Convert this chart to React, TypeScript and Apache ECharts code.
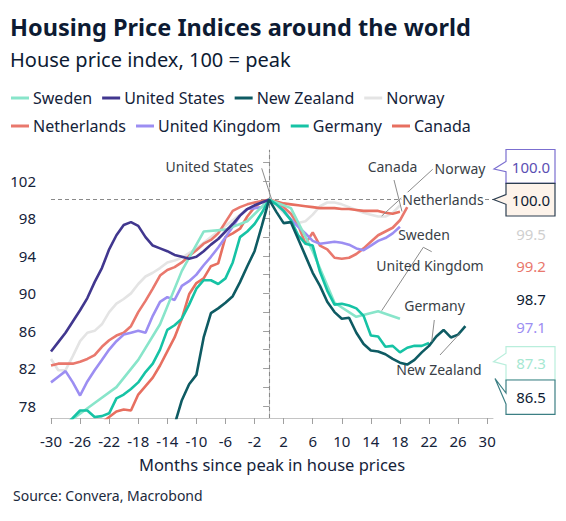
import { useEffect, useRef } from "react";
import * as echarts from "echarts";

const legendRow1 = ["Sweden", "United States", "New Zealand", "Norway"];
const legendRow2 = ["Netherlands", "United Kingdom", "Germany", "Canada"];

const xTickValues = [-30, -26, -22, -18, -14, -10, -6, -2, 2, 6, 10, 14, 18, 22, 26, 30];
const yTickValues = [78, 80, 82, 84, 86, 88, 90, 92, 94, 96, 98, 100, 102, 104];
const yLabelValues = [78, 82, 86, 90, 94, 98, 102];

// monthly series: first month + values
const usStart = -30;
const usValues = [83.8, 84.8, 85.8, 87.0, 88.2, 89.5, 91.2, 92.7, 94.7, 96.2, 97.3, 97.6, 97.2, 96.0, 95.1, 94.8, 94.5, 94.1, 93.9, 93.7, 93.9, 94.5, 95.2, 95.8, 96.6, 97.4, 98.3, 99.0, 99.4, 99.7, 100];

const norwayStart = -30;
const norwayValues = [83.0, 81.8, 81.8, 83.3, 84.9, 85.8, 86.0, 86.7, 88.0, 88.9, 89.4, 90.0, 91.0, 91.8, 92.2, 92.7, 93.3, 93.5, 93.8, 94.3, 94.8, 95.4, 96.0, 96.6, 97.2, 97.8, 98.4, 99.0, 99.4, 99.8, 100, 99.4, 98.6, 97.9, 97.5, 97.7, 98.4, 99.3, 99.7, 99.7, 99.5, 99.2, 98.9, 98.6, 98.4, 98.2, 98.2, 98.6, 99.4];

const netherlandsStart = -30;
const netherlandsValues = [82.3, 82.5, 82.5, 82.5, 82.7, 83.0, 83.4, 84.3, 85.0, 85.5, 85.8, 86.5, 88.0, 89.2, 90.5, 91.9, 92.5, 92.8, 93.3, 94.0, 94.6, 95.3, 95.7, 96.4, 97.6, 98.8, 99.2, 99.5, 99.7, 99.85, 100, 99.7, 99.2, 98.5, 97.3, 95.3, 96.5, 95.1, 94.7, 93.8, 93.7, 93.8, 94.2, 94.8, 95.5, 96.2, 96.6, 97.0, 97.8, 99.2];

const canadaStart = -24;
const canadaValues = [75.6, 76.2, 76.8, 77.4, 77.6, 77.5, 79.2, 80.1, 81.0, 82.3, 83.8, 85.3, 87.3, 89.9, 91.1, 91.6, 92.9, 93.2, 96.0, 96.4, 96.9, 98.2, 99.2, 99.8, 100, 99.8, 99.6, 99.5, 99.4, 99.3, 99.2, 99.1, 99.1, 99.1, 99.0, 99.0, 98.9, 98.8, 98.8, 98.8, 98.6, 98.5, 98.7];

const ukStart = -30;
const ukValues = [80.5, 81.1, 81.7, 80.5, 79.1, 80.6, 81.8, 82.9, 84.0, 84.9, 85.6, 85.8, 86.0, 85.8, 87.6, 89.1, 89.6, 89.3, 90.8, 91.3, 92.0, 93.0, 93.9, 94.9, 96.0, 97.1, 98.3, 99.0, 99.1, 99.2, 100, 99.6, 98.8, 97.9, 97.1, 96.4, 95.6, 95.3, 95.4, 95.5, 95.4, 95.2, 94.8, 94.6, 95.1, 95.6, 95.9, 96.4, 97.1];

const germanyStart = -28;
const germanyValues = [76.0, 76.7, 77.5, 77.5, 76.8, 76.9, 77.2, 78.8, 79.2, 79.8, 80.5, 81.6, 82.5, 84.0, 86.1, 86.6, 87.3, 88.8, 90.5, 91.4, 91.4, 91.0, 91.6, 93.3, 96.0, 96.6, 97.4, 98.6, 100, 99.5, 98.8, 97.8, 96.2, 95.3, 95.1, 92.3, 90.3, 88.8, 88.9, 88.7, 88.4, 87.6, 85.5, 85.4, 84.3, 84.4, 83.7, 84.2, 84.4, 84.4, 84.7];

const nzStart = -14;
const nzValues = [73.5, 76.0, 78.6, 80.3, 81.3, 85.3, 87.9, 88.4, 89.0, 89.7, 91.2, 92.9, 94.5, 97.2, 100, 98.7, 97.5, 97.6, 95.8, 94.0, 92.2, 90.8, 89.1, 88.0, 87.3, 87.4, 85.8, 84.6, 83.9, 83.8, 83.5, 83.0, 82.6, 82.4, 82.9, 83.7, 84.4, 85.4, 86.1, 85.3, 85.6, 86.5];

// quarterly series
const swedenMonths = [-30, -27, -24, -21, -18, -15, -12, -9, -6, -3, 0, 3, 6, 9, 12, 15, 18];
const swedenValues = [74.5, 76.6, 78.3, 80.0, 82.9, 86.7, 92.4, 96.6, 96.8, 97.7, 100, 99.1, 94.5, 89.0, 87.5, 88.1, 87.3];

const lastValues = ["100.0", "100.0", "99.5", "99.2", "98.7", "97.1", "87.3", "86.5"];

const COLORS: Record<string, string> = {
  Sweden: "#88E5CA",
  "United States": "#41378F",
  "New Zealand": "#0E5B63",
  Norway: "#E4E4E4",
  Netherlands: "#E9786D",
  "United Kingdom": "#9C8EF2",
  Germany: "#16C3A5",
  Canada: "#E76F60",
};

const monthly = (start: number, values: number[]) => values.map((v, i) => [start + i, v]);
const paired = (months: number[], values: number[]) => values.map((v, i) => [months[i], v]);

const TEXT = "#15233A";
const FONT = "Noto Sans";

export default function App() {
  const ref = useRef<HTMLDivElement>(null);

  useEffect(() => {
    if (!ref.current) return;
    const chart = echarts.init(ref.current, undefined, { renderer: "svg" });

    const seriesDefs: [string, number[][]][] = [
      ["Norway", monthly(norwayStart, norwayValues)],
      ["Canada", monthly(canadaStart, canadaValues)],
      ["Netherlands", monthly(netherlandsStart, netherlandsValues)],
      ["United Kingdom", monthly(ukStart, ukValues)],
      ["Sweden", paired(swedenMonths, swedenValues)],
      ["Germany", monthly(germanyStart, germanyValues)],
      ["United States", monthly(usStart, usValues)],
      ["New Zealand", monthly(nzStart, nzValues)],
    ];

    const series: any[] = seriesDefs.map(([name, data], idx) => ({
      name,
      type: "line",
      data,
      showSymbol: false,
      symbol: "none",
      color: COLORS[name],
      lineStyle: { width: 2.6, color: COLORS[name] },
      z: 3 + idx,
      markLine:
        idx === 0
          ? {
              silent: true,
              symbol: ["none", "none"],
              label: { show: false },
              lineStyle: { type: [4, 3], color: "#8A8A8A", width: 1.1 },
              data: [{ xAxis: 0 }, { yAxis: 100 }],
            }
          : undefined,
    }));

    const lbl = (text: string, x: number, y: number, extra: any = {}) => ({
      type: "text",
      x,
      y,
      z: 100,
      style: {
        text,
        fill: "#3A3F47",
        font: `14px "${FONT}"`,
        align: "center",
        verticalAlign: "middle",
        textAlign: "center",
        textVerticalAlign: "middle",
        ...extra,
      },
    });
    const leader = (points: number[][]) => ({
      type: "polyline",
      z: 99,
      shape: { points },
      style: { stroke: "#8C8C8C", lineWidth: 1, fill: null },
    });
    const valText = (text: string, y: number, fill: string) => ({
      type: "text",
      x: 531,
      y,
      z: 102,
      style: {
        text,
        fill,
        font: `15px "${FONT}"`,
        align: "center",
        verticalAlign: "middle",
        textAlign: "center",
        textVerticalAlign: "middle",
      },
    });
    const box = (points: number[][], stroke: string, fill: string) => ({
      type: "polygon",
      z: 101,
      shape: { points },
      style: { stroke, fill, lineWidth: 1.2 },
    });

    const graphic: any[] = [
      leader([[261.7, 168.3], [271.5, 199]]),
      lbl("United States", 209.5, 166.7),
      leader([[394, 180], [402, 211.5]]),
      lbl("Canada", 392.5, 166.7),
      leader([[432.7, 169.3], [381.7, 216]]),
      lbl("Norway", 460, 168.3),
      lbl("Netherlands", 443, 199.3, { backgroundColor: "#fff", padding: [0, 1] }),
      leader([[431.7, 251.7], [423.3, 247.3], [381.7, 310.7]]),
      lbl("Sweden", 424, 234.3),
      lbl("United Kingdom", 430, 265),
      leader([[434.3, 320], [431.7, 341.7]]),
      lbl("Germany", 434.5, 305.7),
      leader([[440, 355], [460, 333.3]]),
      lbl("New Zealand", 439, 369),

      box([[506, 149.5], [555, 149.5], [555, 183.3], [506, 183.3], [506, 171.7], [494, 169], [506, 161.5]], "#7B6FD0", "#FFFFFF"),
      valText(lastValues[0], 166.5, "#5B4FB3"),
      box([[506, 183.3], [555, 183.3], [555, 216], [506, 216], [506, 204.3], [493.5, 199.5], [506, 194.5]], "#2C3E50", "#FDF3EA"),
      valText(lastValues[1], 199.8, "#0D1B33"),
      valText(lastValues[2], 234.3, "#CFCFCF"),
      valText(lastValues[3], 265.7, "#E9786D"),
      valText(lastValues[4], 299, "#0D1B33"),
      valText(lastValues[5], 326.7, "#9C8EF2"),
      box([[506, 346.7], [555, 346.7], [555, 380], [506, 380], [506, 365], [493.5, 361.7], [506, 353.3]], "#B9EEDC", "#FFFFFF"),
      valText(lastValues[6], 363.3, "#A6E8D2"),
      box([[506, 380], [555, 380], [555, 414.3], [506, 414.3], [506, 404], [495, 378.5], [506, 393]], "#3C7F84", "#FFFFFF"),
      valText(lastValues[7], 397.2, "#0D1B33"),
    ];

    const legendCommon = {
      orient: "horizontal",
      left: 11,
      padding: 0,
      itemGap: 10,
      itemWidth: 18,
      itemHeight: 3,
      icon: "rect",
      textStyle: { fontSize: 16, color: TEXT, fontFamily: FONT, padding: [0, 0, 0, -1] },
      selectedMode: false,
    };

    chart.setOption({
      animation: false,
      backgroundColor: "#FFFFFF",
      textStyle: { fontFamily: FONT },
      title: [
        {
          text: "Housing Price Indices around the world",
          left: 10,
          top: 15,
          padding: 0,
          textStyle: { fontSize: 23.5, fontWeight: "bold", color: "#0D1B33", fontFamily: FONT },
        },
        {
          text: "House price index, 100 = peak",
          left: 10,
          top: 49.5,
          padding: 0,
          textStyle: { fontSize: 20, fontWeight: "normal", color: "#0D1B33", fontFamily: FONT },
        },
        {
          text: "Source: Convera, Macrobond",
          left: 13,
          top: 488.5,
          padding: 0,
          textStyle: { fontSize: 14, fontWeight: "normal", color: "#1C2A3C", fontFamily: FONT },
        },
      ],
      legend: [
        { ...legendCommon, top: 90, data: legendRow1 },
        { ...legendCommon, top: 118, data: legendRow2 },
      ],
      grid: { left: 51, right: 73, top: 150, bottom: 103, containLabel: false },
      xAxis: {
        type: "value",
        min: -30,
        max: 30.8,
        name: "Months since peak in house prices",
        nameLocation: "middle",
        nameGap: 38,
        nameTextStyle: { fontSize: 16.5, color: TEXT, fontFamily: FONT },
        axisLine: { show: true, onZero: false, lineStyle: { color: "#C4C4C4", width: 1 } },
        axisTick: { show: true, length: 6, lineStyle: { color: "#A0A0A0" }, customValues: xTickValues },
        axisLabel: { customValues: xTickValues, margin: 15, fontSize: 15, color: TEXT, fontFamily: FONT },
        splitLine: { show: false },
      },
      yAxis: {
        type: "value",
        min: 76.7,
        max: 105.3,
        axisLine: { show: true, lineStyle: { color: "#C4C4C4", width: 1 } },
        axisTick: { show: true, length: 6, lineStyle: { color: "#A0A0A0" }, customValues: yTickValues },
        axisLabel: { customValues: yLabelValues, margin: 15, fontSize: 15, color: TEXT, fontFamily: FONT },
        splitLine: { show: false },
      },
      series,
      graphic,
    });

    return () => chart.dispose();
  }, []);

  return (
    <div
      ref={ref}
      style={{ position: "fixed", left: 0, top: 0, width: 566, height: 521, background: "#fff" }}
    />
  );
}
